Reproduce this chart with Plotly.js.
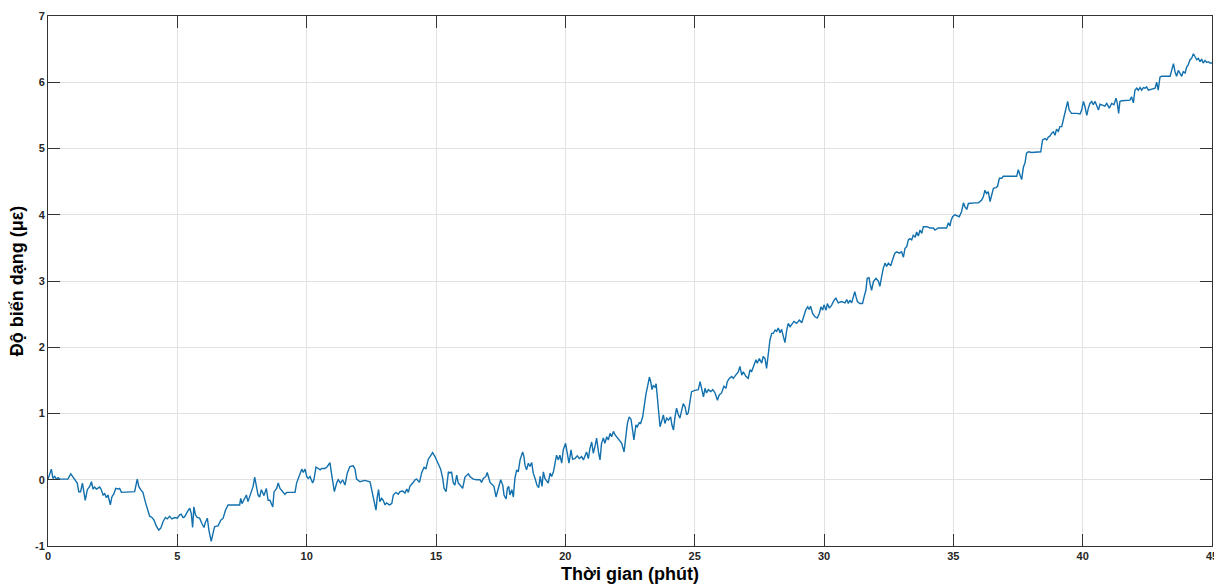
<!DOCTYPE html>
<html>
<head>
<meta charset="utf-8">
<script src="https://cdn.plot.ly/plotly-3.0.1.min.js"></script>
<style>html,body{margin:0;padding:0;background:#fff;}#chart{width:1214px;height:584px;}</style>
</head>
<body>
<div id="chart"></div>
<script>
// Time (minutes)
var timeMin = [
0.00,0.13,0.19,0.26,0.32,0.39,0.45,0.77,0.88,0.97,1.03,1.13,1.19,1.26,1.33,1.39,1.44,1.52,1.61,1.68,1.74,1.80,1.87,2.00,2.06,2.13,2.19,2.26,2.32,2.41,2.47,2.55,2.62,2.71,2.77,2.84,3.09,3.22,3.35,3.45,3.51,3.58,3.67,3.76,3.87,3.93,4.02,4.10,4.19,4.28,4.36,4.45,4.54,4.61,4.70,4.79,4.90,5.00,5.09,5.15,5.22,5.28,5.39,5.48,5.54,5.59,5.64,5.70,5.77,5.86,5.95,6.03,6.08,6.16,6.22,6.31,6.38,6.44,6.51,6.57,6.68,6.77,6.86,6.96,7.41,7.45,7.50,7.60,7.67,7.73,7.84,7.93,7.99,8.05,8.12,8.18,8.25,8.35,8.44,8.51,
8.58,8.69,8.74,8.84,8.90,8.97,9.07,9.16,9.23,9.36,9.55,9.61,9.72,9.81,9.87,9.94,10.00,10.06,10.13,10.23,10.28,10.36,10.45,10.52,10.58,10.71,10.80,10.90,10.97,11.07,11.16,11.22,11.31,11.39,11.48,11.57,11.67,11.80,11.87,11.93,12.06,12.25,12.45,12.51,12.60,12.68,12.73,12.78,12.83,12.90,12.96,13.03,13.09,13.20,13.29,13.35,13.45,13.54,13.61,13.71,13.80,13.87,13.93,13.99,14.10,14.19,14.25,14.36,14.45,14.54,14.61,14.70,14.77,14.87,14.96,15.09,15.18,15.26,15.31,15.39,15.48,15.54,15.60,15.67,15.73,15.80,15.86,15.93,16.03,16.12,16.25,16.31,16.44,16.57,16.70,16.76,16.83,16.93,16.98,17.09,17.15,17.24,17.32,17.41,17.50,17.58,17.63,17.71,17.76,17.81,17.86,17.93,17.99,18.05,18.12,18.18,
18.25,18.35,18.40,18.44,18.50,18.57,18.63,18.70,18.76,18.83,18.90,18.97,19.03,19.10,19.15,19.21,19.28,19.34,19.41,19.47,19.54,19.60,19.66,19.73,19.79,19.86,19.92,20.01,20.08,20.14,20.22,20.28,20.37,20.46,20.54,20.63,20.70,20.76,20.82,20.89,20.95,21.02,21.08,21.15,21.21,21.28,21.34,21.40,21.47,21.53,21.60,21.66,21.73,21.79,21.86,21.92,21.98,22.09,22.18,22.27,22.35,22.40,22.47,22.54,22.60,22.65,22.73,22.78,22.86,22.91,22.99,23.04,23.12,23.17,23.25,23.30,23.35,23.40,23.47,23.51,23.56,23.61,23.66,23.72,23.79,23.85,23.92,23.99,24.07,24.12,24.18,24.24,24.30,24.37,24.43,24.50,24.56,24.63,24.69,24.75,24.82,24.88,25.01,25.14,25.21,25.27,25.34,25.40,25.46,25.53,25.62,25.70,25.79,25.88,25.95,26.04,26.13,26.21,26.26,26.34,26.43,26.49,26.60,26.69,26.75,26.82,26.88,26.98,27.07,27.14,27.20,27.29,27.37,27.42,27.50,27.59,27.65,27.72,27.78,27.85,27.91,27.98,
28.04,28.11,28.17,28.23,28.30,28.36,28.43,28.49,28.56,28.62,28.69,28.75,28.84,28.94,29.05,29.14,29.23,29.30,29.37,29.43,29.48,29.56,29.65,29.74,29.82,29.88,29.95,30.00,30.08,30.13,30.21,30.30,30.39,30.46,30.55,30.68,30.81,30.88,30.94,31.00,31.07,31.13,31.19,31.24,31.29,31.39,31.49,31.55,31.62,31.67,31.74,31.78,31.84,31.91,32.01,32.10,32.16,32.23,32.29,32.36,32.42,32.49,32.58,32.65,32.74,32.81,32.91,33.00,33.07,33.13,33.20,33.26,33.32,33.39,33.45,33.53,33.58,33.65,33.71,33.78,33.84,33.97,34.10,34.23,34.29,34.42,34.61,34.74,34.81,34.87,34.91,34.97,35.06,35.15,35.23,35.32,35.39,35.45,35.52,35.58,35.71,35.84,35.97,36.09,36.16,36.22,36.29,36.35,36.42,36.48,36.55,36.65,36.71,36.78,
36.87,36.93,37.19,37.45,37.51,37.58,37.64,37.71,37.77,37.83,37.90,38.03,38.22,38.38,38.45,38.54,38.61,38.67,38.74,38.80,38.87,38.93,38.99,39.06,39.12,39.19,39.25,39.32,39.38,39.42,39.48,39.57,39.77,39.90,39.96,40.03,40.09,40.16,40.22,40.28,40.35,40.41,40.48,40.54,40.61,40.67,40.77,40.86,40.93,41.03,41.12,41.21,41.29,41.34,41.39,41.44,41.51,41.64,41.83,41.89,41.96,42.02,42.09,42.15,42.22,42.28,42.35,42.41,42.47,42.54,42.67,42.80,42.86,42.92,42.99,43.05,43.18,43.38,43.44,43.51,43.57,43.63,43.70,43.76,43.83,43.89,43.96,44.02,44.08,44.15,44.21,44.28,44.34,44.41,44.47,44.54,44.60,44.66,44.73,44.79,44.86,44.92,45.00
];
// Strain (microstrain)
var strain = [
0.01,0.16,0.02,0.05,0.01,0.03,0.01,0.01,0.09,0.04,0.00,-0.05,-0.18,-0.18,-0.05,-0.20,-0.31,-0.15,-0.10,-0.03,-0.14,-0.11,-0.14,-0.11,-0.15,-0.23,-0.21,-0.27,-0.23,-0.38,-0.26,-0.21,-0.13,-0.14,-0.13,-0.19,-0.19,-0.19,-0.18,0.01,-0.10,-0.15,-0.19,-0.33,-0.46,-0.55,-0.57,-0.61,-0.70,-0.76,-0.73,-0.63,-0.57,-0.59,-0.55,-0.59,-0.57,-0.58,-0.53,-0.52,-0.57,-0.56,-0.48,-0.43,-0.51,-0.72,-0.41,-0.53,-0.57,-0.58,-0.66,-0.72,-0.65,-0.58,-0.76,-0.93,-0.81,-0.71,-0.70,-0.70,-0.61,-0.58,-0.46,-0.38,-0.38,-0.28,-0.36,-0.28,-0.23,-0.33,-0.20,-0.10,0.04,-0.08,-0.23,-0.26,-0.15,-0.24,-0.13,-0.31,
-0.31,-0.41,-0.18,-0.13,-0.05,-0.13,-0.18,-0.22,-0.19,-0.19,-0.19,-0.05,0.07,0.16,0.11,0.16,0.05,0.02,0.05,-0.05,0.00,0.19,0.17,0.15,0.17,0.17,0.20,0.26,0.07,-0.18,-0.05,0.00,-0.05,0.00,-0.08,0.10,0.20,0.21,0.16,0.01,-0.03,-0.01,-0.03,-0.14,-0.28,-0.46,-0.26,-0.15,-0.33,-0.28,-0.31,-0.38,-0.35,-0.38,-0.36,-0.23,-0.19,-0.22,-0.18,-0.17,-0.20,-0.14,-0.19,-0.10,-0.05,0.00,0.01,-0.04,0.11,0.19,0.16,0.31,0.35,0.41,0.35,0.25,0.16,0.02,-0.13,-0.18,0.12,0.10,0.12,-0.05,-0.08,0.07,-0.05,-0.08,-0.13,0.04,0.09,0.05,0.01,0.00,0.00,-0.04,0.02,0.05,0.11,-0.04,-0.06,-0.10,-0.26,-0.13,0.00,-0.08,-0.23,-0.29,-0.13,-0.10,-0.23,-0.15,-0.26,0.02,0.15,0.12,
0.30,0.42,0.35,0.22,0.15,0.25,0.20,0.26,0.10,0.02,-0.08,-0.12,0.05,-0.10,0.12,0.02,-0.03,-0.05,0.10,0.05,0.12,0.25,0.37,0.30,0.37,0.25,0.45,0.55,0.35,0.25,0.45,0.31,0.32,0.36,0.32,0.35,0.30,0.36,0.42,0.32,0.47,0.57,0.40,0.51,0.63,0.42,0.30,0.55,0.63,0.55,0.65,0.60,0.70,0.65,0.73,0.68,0.65,0.60,0.55,0.42,0.73,0.85,0.95,0.91,0.75,0.60,0.83,0.80,0.86,0.85,0.95,1.10,1.30,1.39,1.55,1.48,1.36,1.42,1.40,1.45,1.25,1.00,0.80,0.88,0.98,0.85,0.93,0.90,0.95,0.83,0.75,0.95,1.08,0.98,0.93,1.05,1.15,1.10,0.98,1.01,1.20,1.33,1.35,1.36,1.48,1.38,1.25,1.38,1.31,1.36,1.33,1.36,1.31,1.20,1.28,1.31,1.41,1.38,1.48,1.53,1.56,1.53,1.58,1.63,1.71,1.58,1.63,1.56,1.53,1.66,1.63,1.73,1.81,1.76,1.83,1.76,1.86,1.83,1.68,1.91,2.11,2.21,
2.21,2.26,2.24,2.29,2.22,2.27,2.18,2.07,2.26,2.36,2.31,2.34,2.39,2.36,2.41,2.37,2.49,2.57,2.61,2.57,2.62,2.51,2.46,2.44,2.51,2.61,2.56,2.64,2.56,2.66,2.59,2.64,2.71,2.74,2.67,2.69,2.67,2.72,2.66,2.71,2.67,2.76,2.84,2.76,2.69,2.66,2.66,2.76,2.86,3.04,3.05,2.96,2.86,2.99,3.04,3.00,2.92,3.07,3.19,3.27,3.22,3.27,3.23,3.32,3.42,3.44,3.42,3.44,3.36,3.49,3.52,3.62,3.64,3.62,3.69,3.66,3.74,3.68,3.77,3.72,3.82,3.82,3.80,3.80,3.77,3.80,3.80,3.80,3.88,3.83,3.91,3.97,4.00,3.98,3.97,4.05,4.18,4.12,4.08,4.17,4.18,4.18,4.18,4.22,4.27,4.37,4.32,4.35,4.20,4.30,4.40,4.41,4.43,4.55,
4.55,4.58,4.58,4.58,4.68,4.58,4.53,4.72,4.78,4.93,4.95,4.94,4.94,4.95,5.13,5.15,5.13,5.17,5.19,5.23,5.25,5.20,5.29,5.26,5.33,5.33,5.43,5.56,5.64,5.71,5.58,5.53,5.53,5.52,5.58,5.71,5.63,5.50,5.61,5.68,5.71,5.66,5.71,5.64,5.58,5.67,5.66,5.64,5.68,5.61,5.68,5.66,5.76,5.68,5.53,5.71,5.72,5.72,5.73,5.78,5.69,5.88,5.91,5.88,5.92,5.88,5.92,5.91,5.93,5.88,5.89,5.91,6.00,5.88,6.08,6.09,6.09,6.09,6.18,6.28,6.16,6.09,6.18,6.13,6.09,6.16,6.14,6.23,6.26,6.34,6.36,6.43,6.39,6.34,6.36,6.31,6.35,6.29,6.33,6.30,6.31,6.29,6.29
];
var yTickVals = [-1, 0, 1, 2, 3, 4, 5, 6, 7];
var yTickText = ['-1', '0', '1', '2', '3', '4', '5', '6', '7'];
var xTitle = 'Thời gian (phút)';
var yTitle = 'Độ biến dạng (με)';

var fontFam = 'Arial, "Liberation Sans", Helvetica, sans-serif';
var axisCommon = {
  ticks: 'inside', ticklen: 12, tickwidth: 1, tickcolor: '#333333',
  showline: true, linecolor: '#333333', linewidth: 1, mirror: 'ticks',
  showgrid: true, gridcolor: '#e2e2e2', gridwidth: 1, zeroline: false,
  tickfont: {family: fontFam, size: 11, weight: 'bold', color: '#262626'},
  automargin: false
};
var layout = {
  width: 1214, height: 584,
  margin: {l: 48, r: 2, t: 16, b: 38, pad: 0},
  paper_bgcolor: '#ffffff', plot_bgcolor: '#ffffff',
  showlegend: false,
  xaxis: Object.assign({}, axisCommon, {
    range: [0, 45], tick0: 0, dtick: 5, ticklabeloverflow: 'allow',
    title: {text: xTitle, font: {family: fontFam, size: 18, weight: 'bold', color: '#000000'}, standoff: 8}
  }),
  yaxis: Object.assign({}, axisCommon, {
    range: [-1, 7], tickmode: 'array', tickvals: yTickVals, ticktext: yTickText,
    title: {text: yTitle, font: {family: fontFam, size: 18, weight: 'bold', color: '#000000'}, standoff: 6}
  })
};
var trace = {
  x: timeMin, y: strain, type: 'scatter', mode: 'lines',
  line: {color: '#1170ad', width: 1.4}, hoverinfo: 'skip'
};
Plotly.newPlot('chart', [trace], layout, {displayModeBar: false, staticPlot: true});
</script>
</body>
</html>
